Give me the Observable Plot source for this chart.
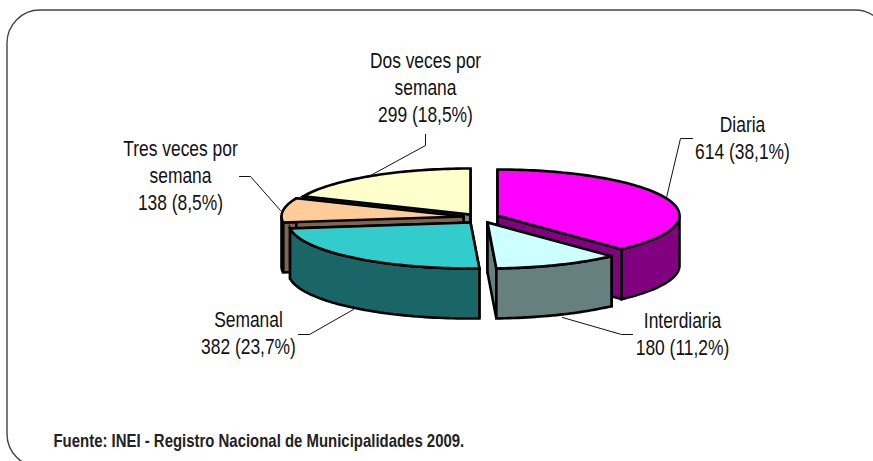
<!DOCTYPE html>
<html><head><meta charset="utf-8">
<script src="https://cdn.jsdelivr.net/npm/d3@7"></script>
<script src="https://cdn.jsdelivr.net/npm/@observablehq/plot@0.6"></script>
<style>html,body{margin:0;padding:0;background:#fff;overflow:hidden}svg{display:block}</style>
</head><body><div id="chart"></div>
<script>
const categories = ["Diaria","Interdiaria","Semanal","Tres veces por semana","Dos veces por semana"];
const counts = [614,180,382,138,299];
const percents = ["38,1%","11,2%","23,7%","8,5%","18,5%"];
const labelLines = [["Diaria"],["Interdiaria"],["Semanal"],["Tres veces por","semana"],["Dos veces por","semana"]];
const topColors = ["#ff00ff","#ccffff","#33cccc","#ffcc99","#ffffcc"];
const sideColors = ["#800080","#668080","#1a6666","#80664d","#808066"];
const source = "Fuente: INEI - Registro Nacional de Municipalidades 2009.";

// layout (not data): pie projection, exploded apex of each slice, label anchors, leader lines
const rx = 182, ry = 46, depth = 50;
const apexX = [497,487,470,463,470], apexY = [215,222,222,216,214];
const labelX = [742,682,248,180,425], labelY = [112,308,307,136,48];
const leaders = [
  [[692,138],[680,138],[666,197]],
  [[632,334],[621,334],[562,317]],
  [[298,334],[309,334],[353,309]],
  [[239,176],[250,176],[280,210]],
  [[425,134],[425,145],[370,175]]
];
const drawOrder = [4,3,0,2,1];

const arcs = d3.pie().sort(null).value(d => d)(counts);
const pt = (i, a, dz = 0) => ({x: apexX[i] + rx * Math.sin(a), y: apexY[i] - ry * Math.cos(a) + dz});
function arcPts(i, a0, a1, dz = 0) {
  const n = Math.max(2, Math.ceil(Math.abs(a1 - a0) * 40)), out = [];
  for (let k = 0; k <= n; ++k) out.push(pt(i, a0 + (a1 - a0) * k / n, dz));
  return out;
}
const face = (pts, fill) => Plot.line(pts, {x: "x", y: "y", fill, stroke: "#000", strokeWidth: 2.6, strokeLinejoin: "miter", strokeMiterlimit: 4, curve: "linear-closed"});
const marks = [];
marks.push(Plot.rect([{}], {x1: () => 7, x2: () => 888, y1: () => 10, y2: () => 467, rx: 33, fill: "none", stroke: "#444", strokeWidth: 1.4}));
for (const i of drawOrder) {
  const {startAngle: s, endAngle: e} = arcs[i];
  const a = {x: apexX[i], y: apexY[i]};
  const ab = {x: apexX[i], y: apexY[i] + depth};
  for (const ang of [s, e]) {
    const p = pt(i, ang);
    marks.push(face([a, p, {x: p.x, y: p.y + depth}, ab], sideColors[i]));
  }
  const fs = Math.max(s, Math.PI / 2), fe = Math.min(e, 3 * Math.PI / 2);
  if (fe > fs) marks.push(face([...arcPts(i, fs, fe), ...arcPts(i, fe, fs, depth)], sideColors[i]));
  marks.push(face([a, ...arcPts(i, s, e)], topColors[i]));
}
leaders.forEach(l => marks.push(Plot.line(l.map(([x, y]) => ({x, y})), {x: "x", y: "y", stroke: "#111", strokeWidth: 1, curve: "linear"})));
const labels = categories.map((c, i) => ({text: [...labelLines[i], `${counts[i]} (${percents[i]})`].join("\n"), x: labelX[i], y: labelY[i]}));
marks.push(Plot.text(labels, {x: "x", y: "y", text: "text", lineAnchor: "top", textAnchor: "middle", lineHeight: 1.27, fontSize: 21.5, fill: "#111", className: "narrow-label"}));
marks.push(Plot.text([source], {x: () => 53, y: () => 441, text: d => d, textAnchor: "start", fontSize: 18, fontWeight: "bold", fill: "#222", className: "narrow-source"}));
const chart = Plot.plot({
  width: 873, height: 461, margin: 0,
  style: {fontFamily: "'Liberation Sans',Arial,sans-serif", background: "#fff"},
  x: {type: "identity", axis: null}, y: {type: "identity", axis: null},
  marks
});
// squeeze the installed sans to the reference's narrow face
const squeeze = (sel, k) => chart.querySelectorAll(sel).forEach(t => t.setAttribute("transform", (t.getAttribute("transform") || "") + ` scale(${k},1)`));
squeeze(".narrow-label text", 0.81);
squeeze(".narrow-source text", 0.83);
document.getElementById("chart").append(chart);
</script></body></html>
